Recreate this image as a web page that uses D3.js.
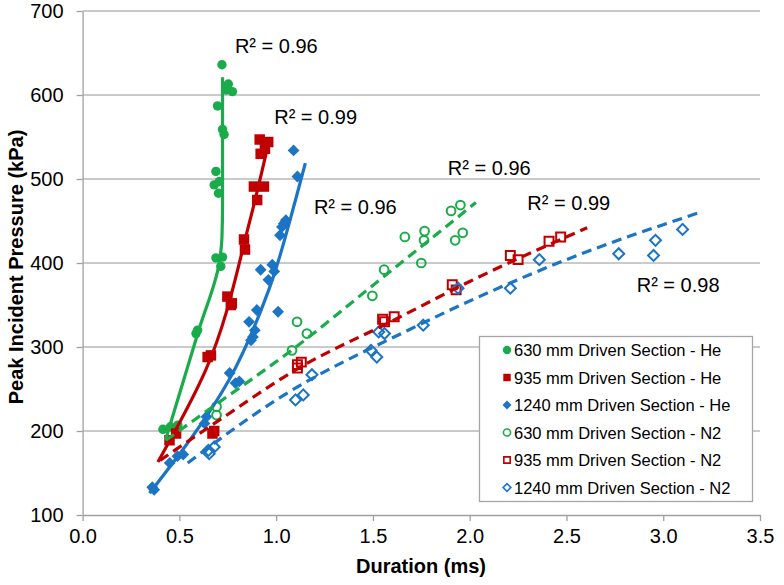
<!DOCTYPE html>
<html><head><meta charset="utf-8">
<script src="https://cdn.jsdelivr.net/npm/d3@7"></script>
<style>body{margin:0;background:#fff}svg{display:block}text{font-family:"Liberation Sans",Arial,sans-serif}</style>
</head><body>
<svg id="c" width="784" height="585"></svg>
<script>
// ---- data (duration ms, pressure kPa) ----
const xTicks = [0.0,0.5,1.0,1.5,2.0,2.5,3.0,3.5];
const yTicks = [100,200,300,400,500,600,700];
const seriesNames = ["630 mm Driven Section - He","935 mm Driven Section - He","1240 mm Driven Section - He",
                     "630 mm Driven Section - N2","935 mm Driven Section - N2","1240 mm Driven Section - N2"];
const green630He = [[0.415,202],[0.454,205],[0.492,207],[0.594,320],[0.586,316],[0.689,406],[0.723,407],[0.714,396],
  [0.689,509],[0.680,493],[0.706,497],[0.702,483],[0.697,587],[0.723,559],[0.731,553],[0.720,636],[0.753,613],[0.774,604],[0.743,606]];
const red935He = [[0.449,189],[0.483,197],[0.680,200],[0.671,197],[0.646,288],[0.663,290],[0.748,360],[0.766,350],[0.771,352],
  [0.834,428],[0.839,416],[0.885,491],[0.937,491],[0.902,475],[0.915,547],[0.959,544],[0.942,536],[0.920,530]];
const blue1240He = [[0.37,130],[0.36,133],[0.45,162],[0.49,170],[0.52,172],[0.63,209],[0.64,217],[0.76,269],[0.79,257],[0.81,259],
  [0.86,330],[0.88,312],[0.87,308],[0.89,320],[0.90,344],[0.92,392],[0.96,380],[0.98,398],[0.99,390],[1.01,342],[1.02,433],
  [1.03,443],[1.04,447],[1.05,451],[1.11,503],[1.09,534]];
const green630N2 = [[0.692,229],[0.692,219],[1.108,330],[1.159,316],[1.082,296],[1.497,361],[1.558,392],[1.665,431],[1.75,400],
  [1.767,438],[1.764,427],[1.904,462],[1.952,469],[1.964,436],[1.925,427]];
const red935N2 = [[1.11,279],[1.13,282],[1.11,275],[1.56,330],[1.61,336],[1.55,333],[1.91,374],[1.93,368],[2.21,409],[2.25,404],
  [2.41,426],[2.47,431]];
const blue1240N2 = [[0.65,177],[0.68,181],[0.654,173],[1.10,237],[1.14,243],[1.185,267],[1.49,296],[1.52,288],[1.53,318],[1.56,316],
  [1.76,326],[1.94,370],[2.21,370],[2.36,404],[2.77,411],[2.95,409],[2.96,427],[3.10,440]];
// trend lines
const green630HeFit = [[0.428,189],[0.60,320],[0.706,400],[0.72,430],[0.723,470],[0.723,621]];
const red935HeFit = [[0.389,163],[0.637,273],[0.865,451],[0.963,545]];
const blue1240HeFit = [[0.346,126],[0.757,261],[0.962,368],[1.10,475],[1.151,519]];
const green630N2Fit = [[0.43,189],[0.692,232],[1.091,298],[1.493,372],[2.032,472]];
const red935N2Fit = [[0.40,165],[0.70,212],[1.11,274],[1.6,331],[2.0,378],[2.607,442]];
const blue1240N2Fit = [[0.543,162],[1.014,239],[1.682,320],[2.5,404],[3.2,461]];
const r2Labels = ["R² = 0.96","R² = 0.99","R² = 0.96","R² = 0.96","R² = 0.99","R² = 0.98"];
const r2Pos = [[0.787,650],[0.99,566],[1.195,458],[1.887,505],[2.298,463],[2.863,365]];

const GREEN="#1aab4b", RED="#c00000", BLUE="#1c74c4";
const svg = d3.select("#c");
const x = d3.scaleLinear().domain([0,3.5]).range([82.6,760]);
const y = d3.scaleLinear().domain([100,700]).range([515,11]);

// gridlines
svg.append("g").selectAll("line").data(yTicks.slice(1)).join("line")
  .attr("x1",x(0)).attr("x2",x(3.5)).attr("y1",d=>y(d)).attr("y2",d=>y(d))
  .attr("stroke","#b8b8b8").attr("stroke-width",1.3);

// axes
const gx = svg.append("g").attr("transform",`translate(0,${y(100)})`)
  .call(d3.axisBottom(x).tickValues(xTicks).tickFormat(d3.format(".1f")).tickSize(6).tickSizeOuter(0));
const gy = svg.append("g").attr("transform",`translate(${x(0)},0)`)
  .call(d3.axisLeft(y).tickValues(yTicks).tickFormat(d3.format("d")).tickSize(6).tickSizeOuter(0));
[gx,gy].forEach(g=>{
  g.select(".domain").attr("stroke","#a0a0a0").attr("stroke-width",1.3);
  g.selectAll(".tick line").attr("stroke","#a0a0a0").attr("stroke-width",1.3);
  g.selectAll(".tick text").attr("fill","#000").style("font-size","20px").style("font-family","'Liberation Sans',Arial,sans-serif");
});
gx.selectAll(".tick text").attr("dy","0.95em");
gy.selectAll(".tick text").attr("x",-19);

svg.append("text").attr("x",421).attr("y",573).attr("text-anchor","middle")
  .style("font-size","20px").style("font-weight","bold").text("Duration (ms)");
svg.append("text").attr("transform","translate(23,267) rotate(-90)").attr("text-anchor","middle")
  .style("font-size","20px").style("font-weight","bold").text("Peak Incident Pressure (kPa)");

const series = [
  {d:green630He, fit:green630HeFit, c:GREEN, sym:d3.symbolCircle, size:70, rot:0, filled:true, dash:null, curve:d3.curveMonotoneY},
  {d:red935He, fit:red935HeFit, c:RED, sym:d3.symbolSquare, size:110, rot:0, filled:true, dash:null, curve:d3.curveMonotoneY},
  {d:blue1240He, fit:blue1240HeFit, c:BLUE, sym:d3.symbolSquare, size:70, rot:45, filled:true, dash:null, curve:d3.curveMonotoneY},
  {d:green630N2, fit:green630N2Fit, c:GREEN, sym:d3.symbolCircle, size:60, rot:0, filled:false, dash:"10,6", curve:d3.curveMonotoneX},
  {d:red935N2, fit:red935N2Fit, c:RED, sym:d3.symbolSquare, size:80, rot:0, filled:false, dash:"10,6", curve:d3.curveMonotoneX},
  {d:blue1240N2, fit:blue1240N2Fit, c:BLUE, sym:d3.symbolSquare, size:60, rot:45, filled:false, dash:"10,6", curve:d3.curveMonotoneX}
];

const plot = svg.append("g");
series.forEach(s=>{
  plot.append("g").selectAll("path").data(s.d).join("path")
    .attr("transform",d=>`translate(${x(d[0])},${y(d[1])}) rotate(${s.rot})`)
    .attr("d",d3.symbol(s.sym,s.size))
    .attr("fill",s.filled?s.c:"none")
    .attr("stroke",s.c).attr("stroke-width",s.filled?0:2);
});
series.forEach(s=>{
  plot.append("path").datum(s.fit)
    .attr("d",d3.line().x(d=>x(d[0])).y(d=>y(d[1])).curve(s.curve))
    .attr("fill","none").attr("stroke",s.c).attr("stroke-width",3.2)
    .attr("stroke-dasharray",s.dash);
});

// R² labels
svg.append("g").selectAll("text").data(r2Labels).join("text")
  .attr("x",(d,i)=>x(r2Pos[i][0])).attr("y",(d,i)=>y(r2Pos[i][1]))
  .style("font-size","20px").attr("fill","#000").text(d=>d);

// legend
const lg = svg.append("g");
lg.append("rect").attr("x",479.5).attr("y",336.5).attr("width",273).attr("height",165)
  .attr("fill","#fff").attr("stroke","#a6a6a6").attr("stroke-width",1.3);
series.forEach((s,i)=>{
  const cy = 350 + i*27.5;
  lg.append("path").attr("transform",`translate(507,${cy}) rotate(${s.rot})`)
    .attr("d",d3.symbol(s.sym,s.filled?(s.rot?40:55):(s.rot?30:40)))
    .attr("fill",s.filled?s.c:"none").attr("stroke",s.c).attr("stroke-width",s.filled?0:1.6);
  lg.append("text").attr("x",514).attr("y",cy+6).style("font-size","16.5px").attr("fill","#000").text(seriesNames[i]);
});
</script>
</body></html>
